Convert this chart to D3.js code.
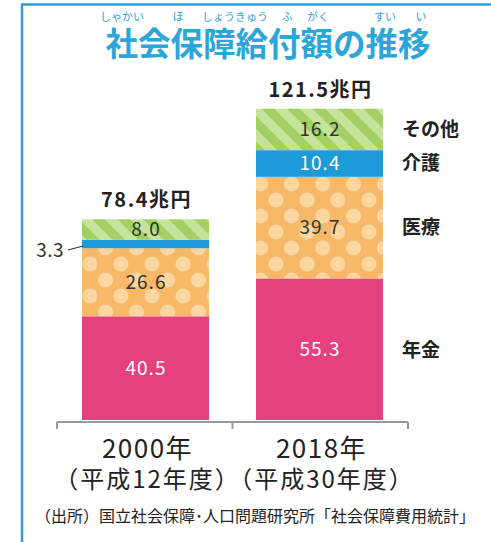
<!DOCTYPE html>
<html><head><meta charset="utf-8">
<script src="https://cdn.jsdelivr.net/npm/d3@7"></script>
<style>
html,body{margin:0;padding:0;background:#fff;}
svg{display:block;}
text{font-family:"Noto Sans CJK JP","Noto Sans",sans-serif;}
</style></head>
<body>
<script>
const years = ["2000年", "2018年"];
const eras = ["（平成12年度）", "（平成30年度）"];
const categories = ["年金", "医療", "介護", "その他"];
const pension = [40.5, 55.3];
const medical = [26.6, 39.7];
const care = [3.3, 10.4];
const other = [8.0, 16.2];
const totals = ["78.4兆円", "121.5兆円"];
const title = "社会保障給付額の推移";
const rubyParts = [["しゃかい",122],["ほ",178],["しょうきゅう",235],["ふ",287],["がく",318],["すい",385],["い",421]];
const source = "（出所）国立社会保障･人口問題研究所「社会保障費用統計」";

const W = 491, H = 542;
const svg = d3.select("body").append("svg").attr("width", W).attr("height", H);
const defs = svg.append("defs");

// patterns
const stripe = defs.append("pattern").attr("id","stripe").attr("patternUnits","userSpaceOnUse")
  .attr("width",18).attr("height",18).attr("patternTransform","rotate(-45)");
stripe.append("rect").attr("width",18).attr("height",18).attr("fill","#c6e39b");
stripe.append("rect").attr("width",9).attr("height",18).attr("fill","#a2d064");

const dots = defs.append("pattern").attr("id","dots").attr("patternUnits","userSpaceOnUse")
  .attr("width",31).attr("height",32).attr("x",82).attr("y",0);
dots.append("rect").attr("width",31).attr("height",32).attr("fill","#f7b967");
[[8,8],[23.5,24],[23.5,-8],[-7.5,24],[39,8],[8,40]].forEach(([cx,cy])=>
  dots.append("circle").attr("cx",cx).attr("cy",cy).attr("r",7.6).attr("fill","#fbd6a0"));

const fills = ["#e4417e","url(#dots)","#1d9ad8","url(#stripe)"];
const labelColors = ["#ffffff","#333333","#ffffff","#333333"];

// frame
svg.append("path").attr("d",`M22,${H} L22,4.5 L${W},4.5`).attr("fill","none")
  .attr("stroke","#2c9fd8").attr("stroke-width",2.5);

// title
const blue = "#2ca5d9";
svg.append("text").attr("x",268).attr("y",56).attr("text-anchor","middle")
  .attr("font-size",32.5).attr("font-weight",700).attr("fill",blue).text(title);
rubyParts.forEach(([t,x])=>svg.append("text").attr("x",x).attr("y",20.5).attr("text-anchor","middle")
  .attr("font-size",11).attr("fill",blue).text(t));

// scales
const x = d3.scaleBand().domain(years).range([57,408]).paddingInner(0.27).paddingOuter(0.1437);
const y = d3.scaleLinear().domain([0,125]).range([420,100]);

const data = years.map((yr,i)=>({year:yr, 年金:pension[i], 医療:medical[i], 介護:care[i], その他:other[i]}));
const stacked = d3.stack().keys(categories)(data);

const g = svg.append("g");
stacked.forEach((layer,k)=>{
  g.selectAll(null).data(layer).join("rect")
    .attr("x",d=>x(d.data.year)).attr("width",x.bandwidth())
    .attr("y",d=>y(d[1])).attr("height",d=>y(d[0])-y(d[1]))
    .attr("fill",fills[k]);
});
stacked.forEach((layer,k)=>{
  layer.forEach((d,i)=>{
    const v = d[1]-d[0];
    if (k===2 && i===0) return;
    svg.append("text").attr("x",x(d.data.year)+x.bandwidth()/2+0.5)
      .attr("y",(y(d[0])+y(d[1]))/2).attr("dy","0.36em").attr("text-anchor","middle")
      .attr("font-size",19).attr("letter-spacing",1).attr("fill",labelColors[k]).text(v.toFixed(1));
  });
});
// 3.3 callout
const c0 = stacked[2][0];
const cy = (y(c0[0])+y(c0[1]))/2;
svg.append("line").attr("x1",68).attr("y1",cy+6).attr("x2",x(years[0])+1).attr("y2",cy+2)
  .attr("stroke","#333").attr("stroke-width",1.2);
svg.append("text").attr("x",64).attr("y",cy+6).attr("dy","0.36em").attr("text-anchor","end")
  .attr("font-size",19).attr("letter-spacing",0.5).attr("fill","#333").text((c0[1]-c0[0]).toFixed(1));

// totals
years.forEach((yr,i)=>{
  svg.append("text").attr("x",x(yr)+x.bandwidth()/2+1).attr("y",y(stacked[3][i][1])-12)
    .attr("text-anchor","middle").attr("font-size",20).attr("font-weight",700)
    .attr("fill","#222").attr("letter-spacing",1.5).text(totals[i]);
});

// category labels on right
const labelY = [350, 227, 163, 129];
categories.forEach((c,k)=>{
  svg.append("text").attr("x",402).attr("y",labelY[k]).attr("dy","0.36em")
    .attr("font-size",19).attr("font-weight",700).attr("fill","#222").text(c);
});

// axis bracket
const ax = svg.append("g").attr("fill","none").attr("stroke","#9a9a9a").attr("stroke-width",2);
const bx = [57, (x(years[0])+x.bandwidth()+x(years[1]))/2, 408];
ax.append("line").attr("x1",bx[0]).attr("x2",bx[2]).attr("y1",422).attr("y2",422);
bx.forEach(v=>ax.append("line").attr("x1",v).attr("x2",v).attr("y1",422).attr("y2",429));

years.forEach((yr,i)=>{
  const cx = x(yr)+x.bandwidth()/2;
  svg.append("text").attr("x",cx+2).attr("y",458).attr("text-anchor","middle")
    .attr("font-size",26).attr("letter-spacing",1.5).attr("fill","#222").text(yr);
  svg.append("text").attr("x",cx+2).attr("y",488).attr("text-anchor","middle")
    .attr("font-size",24).attr("letter-spacing",2).attr("fill","#222").text(eras[i]);
});

svg.append("text").attr("x",255).attr("y",522).attr("text-anchor","middle")
  .attr("font-size",16).attr("fill","#222").text(source);
</script>
</body></html>
